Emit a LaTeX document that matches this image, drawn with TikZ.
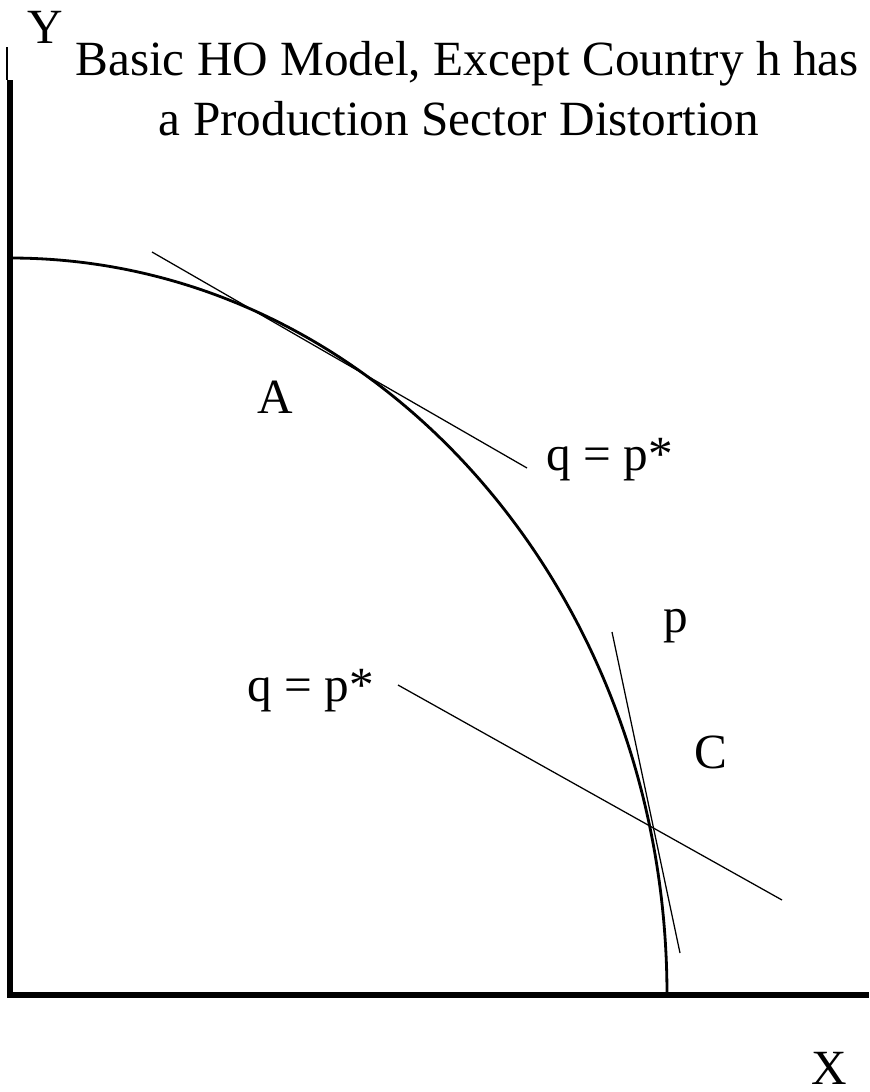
\documentclass[tikz,border=0pt]{standalone}
\usepackage{fontspec}
\setmainfont{Liberation Serif}

\begin{document}
\begin{tikzpicture}[
    x=0.025cm, y=-0.025cm,
    axis/.style={line width=4.3pt},
    frontier/.style={line width=2pt},
    price/.style={line width=0.9pt},
    label/.style={font=\fontsize{35}{42}\selectfont, inner sep=0pt, anchor=base}
]

\useasboundingbox (0,0) rectangle (869,1092);

% Axes
\coordinate (tick) at (7,47);
\coordinate (Ytop) at (10,80);
\coordinate (O) at (10,995);
\coordinate (Xend) at (869,995);
\draw[line width=1pt] (tick) -- (7,80);
\draw[axis] (Ytop) -- (O) -- (Xend);

% Production frontier
\coordinate (Ymax) at (10,258);
\draw[frontier] (Ymax) arc[start angle=-90, end angle=0, x radius=657, y radius=737] coordinate (Xmax);

% Price lines
\coordinate (qa1) at (152,252);
\coordinate (qa2) at (527,468);
\coordinate (qc1) at (398,685);
\coordinate (qc2) at (782,900);
\coordinate (p1) at (612,632);
\coordinate (p2) at (680,953);
\draw[price] (qa1) -- (qa2);
\draw[price] (qc1) -- (qc2);
\draw[price] (p1) -- (p2);

% Labels
\node[label] (ylab) at (45,43) {Y};
\node[label] (xlab) at (829,1084) {X};
\node[label] (title1) at (467,75) {Basic HO Model, Except Country h has};
\node[label] (title2) at (459,135) {a Production Sector Distortion};
\node[label] (A) at (275,413) {A};
\node[label] (C) at (711,768) {C};
\node[label] (qtop) at (610,470) {q = p*};
\node[label] (qlow) at (311,701) {q = p*};
\node[label] (plab) at (676,632) {p};

\end{tikzpicture}
\end{document}
